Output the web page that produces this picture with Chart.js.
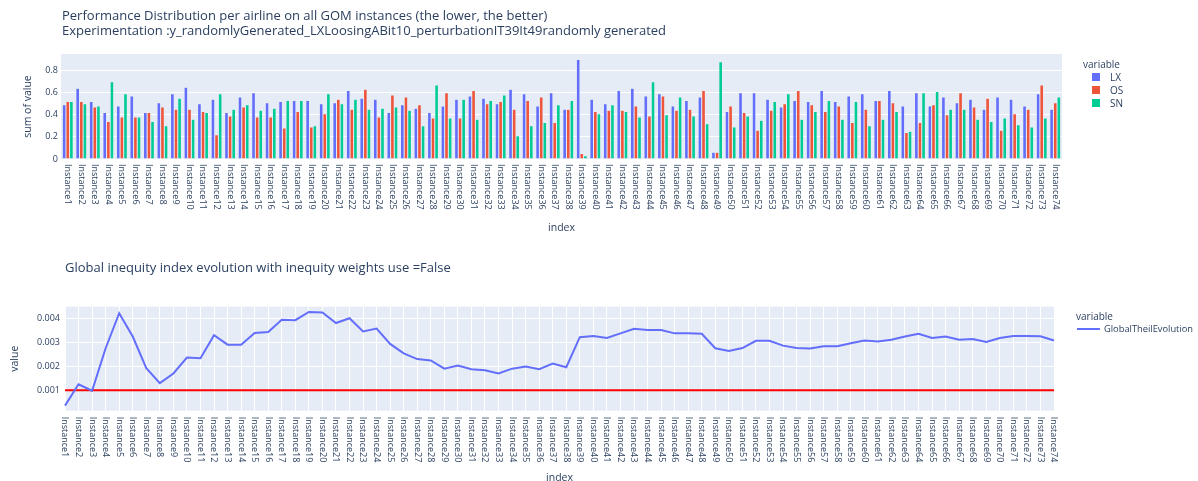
<!DOCTYPE html>
<html><head><meta charset="utf-8">
<script src="https://cdn.jsdelivr.net/npm/chart.js@4/dist/chart.umd.min.js"></script>
<style>
html,body{margin:0;padding:0;background:#fff;width:1198px;height:481px;overflow:hidden;font-family:"Open Sans",Verdana,Arial,sans-serif;}
canvas{position:absolute;left:0;}
#c1{top:0;}
#c2{top:245px;}
.t{position:absolute;color:#2a3f5f;white-space:nowrap;}
.sq{position:absolute;width:8px;height:8px;}
</style></head>
<body>
<canvas id="c1" width="1198" height="245"></canvas>
<canvas id="c2" width="1198" height="236"></canvas>
<div class="t" style="left:62px;top:8px;font-size:13px;line-height:15px">Performance Distribution per airline on all GOM instances (the lower, the better)<br>Experimentation :y_randomlyGenerated_LXLoosingABit10_perturbationIT39It49randomly generated</div>
<div class="t" style="left:65px;top:260px;font-size:13px;line-height:15px">Global inequity index evolution with inequity weights use =False</div>

<div class="t" style="left:1083px;top:58px;font-size:10px;line-height:12px">variable</div>
<div class="sq" style="left:1092px;top:73px;background:#636efa"></div>
<div class="t" style="left:1110px;top:71px;font-size:10px;line-height:12px">LX</div>
<div class="sq" style="left:1092px;top:86px;background:#EF553B"></div>
<div class="t" style="left:1110px;top:84px;font-size:10px;line-height:12px">OS</div>
<div class="sq" style="left:1092px;top:99px;background:#00cc96"></div>
<div class="t" style="left:1110px;top:97px;font-size:10px;line-height:12px">SN</div>

<div class="t" style="left:1076px;top:310px;font-size:10px;line-height:12px">variable</div>
<div style="position:absolute;left:1077px;top:328px;width:23px;height:2px;background:#636efa"></div>
<div class="t" style="left:1104px;top:323px;font-size:9.3px;line-height:12px">GlobalTheilEvolution</div>

<script>
const categories = ['Instance1','Instance2','Instance3','Instance4','Instance5','Instance6','Instance7','Instance8','Instance9','Instance10',
'Instance11','Instance12','Instance13','Instance14','Instance15','Instance16','Instance17','Instance18','Instance19','Instance20',
'Instance21','Instance22','Instance23','Instance24','Instance25','Instance26','Instance27','Instance28','Instance29','Instance30',
'Instance31','Instance32','Instance33','Instance34','Instance35','Instance36','Instance37','Instance38','Instance39','Instance40',
'Instance41','Instance42','Instance43','Instance44','Instance45','Instance46','Instance47','Instance48','Instance49','Instance50',
'Instance51','Instance52','Instance53','Instance54','Instance55','Instance56','Instance57','Instance58','Instance59','Instance60',
'Instance61','Instance62','Instance63','Instance64','Instance65','Instance66','Instance67','Instance68','Instance69','Instance70',
'Instance71','Instance72','Instance73','Instance74'];

const lxValues = [0.49,0.64,0.52,0.42,0.48,0.57,0.42,0.51,0.59,0.65,
0.50,0.54,0.42,0.56,0.60,0.51,0.52,0.53,0.53,0.50,
0.51,0.62,0.55,0.54,0.42,0.49,0.46,0.42,0.48,0.54,
0.57,0.55,0.50,0.63,0.59,0.48,0.60,0.45,0.90,0.54,
0.50,0.62,0.64,0.57,0.59,0.48,0.53,0.56,0.06,0.43,
0.60,0.60,0.54,0.47,0.53,0.52,0.62,0.52,0.57,0.59,
0.53,0.62,0.48,0.60,0.48,0.56,0.51,0.54,0.45,0.56,
0.54,0.48,0.59,0.45];

const osValues = [0.52,0.52,0.47,0.34,0.38,0.38,0.42,0.47,0.45,0.45,
0.43,0.22,0.39,0.47,0.38,0.38,0.28,0.43,0.29,0.41,
0.54,0.45,0.63,0.38,0.58,0.56,0.49,0.37,0.60,0.37,
0.62,0.50,0.52,0.45,0.53,0.56,0.33,0.45,0.05,0.43,
0.44,0.44,0.48,0.39,0.57,0.44,0.45,0.62,0.06,0.48,
0.42,0.26,0.44,0.50,0.62,0.49,0.43,0.48,0.33,0.45,
0.53,0.51,0.24,0.33,0.49,0.40,0.60,0.47,0.55,0.26,
0.41,0.45,0.67,0.51];

const snValues = [0.52,0.50,0.48,0.70,0.59,0.38,0.34,0.30,0.55,0.36,
0.42,0.59,0.45,0.49,0.44,0.46,0.53,0.53,0.30,0.59,
0.50,0.54,0.45,0.46,0.47,0.44,0.30,0.67,0.37,0.54,
0.36,0.53,0.58,0.21,0.30,0.33,0.49,0.53,0.03,0.41,
0.49,0.43,0.38,0.70,0.40,0.56,0.39,0.32,0.88,0.29,
0.39,0.35,0.52,0.59,0.36,0.43,0.53,0.36,0.52,0.30,
0.36,0.43,0.25,0.60,0.61,0.45,0.45,0.36,0.34,0.37,
0.31,0.29,0.37,0.56];

const theilValues = [0.00036,0.00125,0.00098,0.00275,0.00421,0.00324,0.00192,0.0013,0.0017,0.00236,
0.00233,0.00329,0.0029,0.0029,0.00339,0.00343,0.00394,0.00392,0.00426,0.00424,
0.0038,0.0040,0.00345,0.00357,0.00293,0.00254,0.0023,0.00224,0.0019,0.00203,
0.00188,0.00183,0.0017,0.0019,0.00199,0.00188,0.00211,0.00196,0.00321,0.00326,
0.00318,0.00337,0.00356,0.00351,0.00351,0.00337,0.00337,0.00335,0.00275,0.00264,
0.00276,0.00306,0.00306,0.00286,0.00276,0.00274,0.00283,0.00283,0.00296,0.00307,
0.00303,0.0031,0.00324,0.00335,0.00318,0.00324,0.0031,0.00313,0.00301,0.00318,
0.00326,0.00326,0.00325,0.00307];

const thresholdValue = 0.001;
const barYTicks = [0, 0.2, 0.4, 0.6, 0.8];
const barYTickLabels = ['0', '0.2', '0.4', '0.6', '0.8'];
const lineYTicks = [0.001, 0.002, 0.003, 0.004];
const lineYTickLabels = ['0.001', '0.002', '0.003', '0.004'];

const FONT = '"Open Sans", Verdana, Arial, sans-serif';
const TXT = '#2a3f5f';

const plotBg = {
  id: 'plotBg',
  beforeDraw(chart) {
    const a = chart.chartArea, ctx = chart.ctx;
    ctx.save(); ctx.fillStyle = '#E5ECF6';
    ctx.fillRect(a.left, a.top, a.right - a.left, a.bottom - a.top);
    ctx.restore();
  }
};

const decor = {
  id: 'decor',
  afterDraw(chart, args, o) {
    const ctx = chart.ctx, xs = chart.scales.x, a = chart.chartArea;
    ctx.save();
    ctx.fillStyle = TXT;
    ctx.font = '9px ' + FONT;
    ctx.textAlign = 'left'; ctx.textBaseline = 'middle';
    chart.data.labels.forEach((lab, i) => {
      const x = xs.getPixelForValue(i);
      ctx.save(); ctx.translate(x, a.bottom + o.gap); ctx.rotate(Math.PI / 2);
      ctx.fillText(lab, 0, 0); ctx.restore();
    });
    ctx.font = '10.5px ' + FONT; ctx.textAlign = 'center';
    ctx.fillText(o.xTitle, (a.left + a.right) / 2, o.xTitleY);
    ctx.save(); ctx.translate(o.yTitleX, (a.top + a.bottom) / 2); ctx.rotate(-Math.PI / 2);
    ctx.fillText(o.yTitle, 0, 0); ctx.restore();
    ctx.restore();
  }
};

function fixX(h) { return s => { s.height = h; s.paddingLeft = s.paddingRight = s.paddingTop = s.paddingBottom = 0; }; }
function fixY(w) { return s => { s.width = w; s.paddingLeft = s.paddingRight = s.paddingTop = s.paddingBottom = 0; }; }
function tickSetter(vals) { return s => { s.ticks = vals.map(v => ({ value: v })); }; }
function tickFmt(vals, labs) { return v => { const i = vals.findIndex(t => Math.abs(t - v) < 1e-9); return i >= 0 ? labs[i] : ''; }; }

const barStyle = { borderColor: '#E5ECF6', borderWidth: 0.5 };

new Chart(document.getElementById('c1'), {
  type: 'bar',
  data: {
    labels: categories,
    datasets: [
      Object.assign({ label: 'LX', data: lxValues, backgroundColor: '#636efa' }, barStyle),
      Object.assign({ label: 'OS', data: osValues, backgroundColor: '#EF553B' }, barStyle),
      Object.assign({ label: 'SN', data: snValues, backgroundColor: '#00cc96' }, barStyle)
    ]
  },
  options: {
    responsive: false, animation: false, devicePixelRatio: 1,
    layout: { padding: { top: 54, right: 136, left: 0, bottom: 0 } },
    datasets: { bar: { categoryPercentage: 0.8, barPercentage: 1.0 } },
    plugins: { legend: { display: false }, tooltip: { enabled: false },
      decor: { gap: 5, xTitle: 'index', xTitleY: 228, yTitle: 'sum of value', yTitleX: 28 } },
    scales: {
      x: { offset: true, grid: { display: false }, border: { display: false },
           ticks: { display: false }, afterFit: fixX(86) },
      y: { min: 0, max: 0.95, afterBuildTicks: tickSetter(barYTicks), afterFit: fixY(61),
           grid: { color: '#ffffff', lineWidth: 1, drawTicks: false }, border: { display: false },
           ticks: { color: TXT, font: { family: FONT, size: 9 }, padding: 3,
                    callback: tickFmt(barYTicks, barYTickLabels) } }
    }
  },
  plugins: [plotBg, decor]
});

new Chart(document.getElementById('c2'), {
  type: 'line',
  data: {
    labels: categories,
    datasets: [
      { label: 'GlobalTheilEvolution', data: theilValues, borderColor: '#636efa', borderWidth: 2,
        pointRadius: 0, tension: 0, fill: false },
      { label: 'threshold', data: [{ x: categories[0], y: thresholdValue }, { x: categories[categories.length - 1], y: thresholdValue }],
        borderColor: '#ff0000', borderWidth: 2, pointRadius: 0, tension: 0, fill: false }
    ]
  },
  options: {
    responsive: false, animation: false, devicePixelRatio: 1,
    layout: { padding: { top: 61.7, right: 144, left: 0, bottom: 0 } },
    plugins: { legend: { display: false }, tooltip: { enabled: false },
      decor: { gap: 6, xTitle: 'index', xTitleY: 233, yTitle: 'value', yTitleX: 15 } },
    scales: {
      x: { offset: false, grid: { display: true, color: '#ffffff', lineWidth: 1, drawTicks: false },
           border: { display: false }, ticks: { display: false }, afterFit: fixX(70.3) },
      y: { min: 0.00015, max: 0.00448, afterBuildTicks: tickSetter(lineYTicks), afterFit: fixY(65),
           grid: { color: '#ffffff', lineWidth: 1, drawTicks: false }, border: { display: false },
           ticks: { color: TXT, font: { family: FONT, size: 9 }, padding: 5,
                    callback: tickFmt(lineYTicks, lineYTickLabels) } }
    }
  },
  plugins: [plotBg, decor]
});
</script>
</body></html>
